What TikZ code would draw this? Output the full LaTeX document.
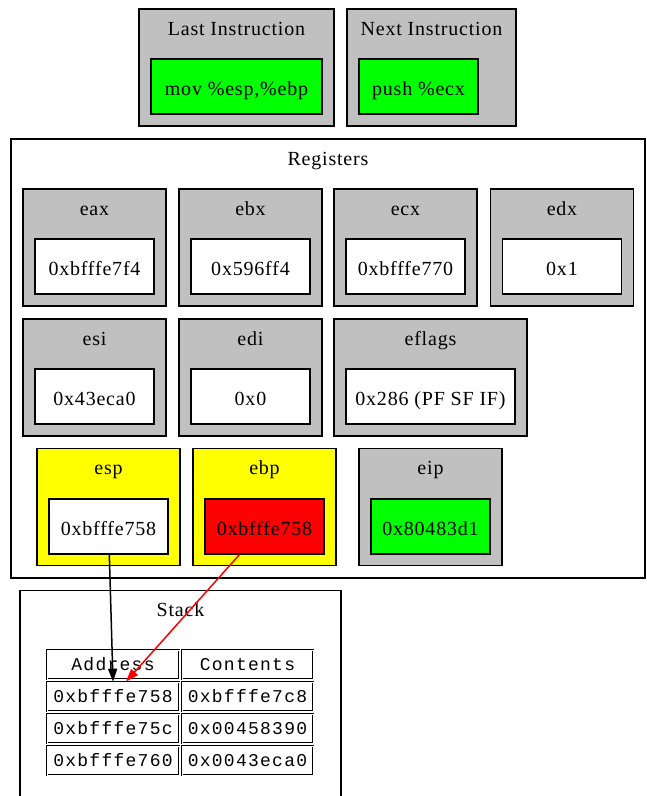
\documentclass[tikz,border=0pt]{standalone}
\usepackage{fontspec}
\setmainfont{Liberation Serif}[LetterSpace=4]
\newfontfamily\stackfont{Liberation Mono}[LetterSpace=7]
\usetikzlibrary{arrows.meta}
\definecolor{boxgray}{RGB}{192,192,192}
\definecolor{valgreen}{RGB}{0,255,0}
\definecolor{valyellow}{RGB}{255,255,0}
\definecolor{valred}{RGB}{255,0,0}

\begin{document}
\begin{tikzpicture}[x=1pt, y=-1pt,
  cluster/.style={draw, line width=1.3pt, fill=boxgray, inner sep=0pt, minimum height=117pt},
  title/.style={anchor=base, inner sep=0pt, font=\fontsize{20}{24}\selectfont},
  value/.style={draw, line width=1.3pt, fill=white, inner sep=0pt, minimum width=119pt, minimum height=55pt, text height=18pt, text depth=0pt, font=\fontsize{20}{24}\selectfont},
  cell/.style={draw, double, double distance=0.7pt, line width=0.7pt, inner sep=0pt, minimum height=29pt, font=\stackfont\fontsize{18}{22}\selectfont},
  pointer/.style={-{Triangle[length=13pt,width=9pt]}, line width=1.5pt}]
\useasboundingbox (0,0) rectangle (647,796);
\clip (0,0) rectangle (647,796);

% Instructions
\node[cluster, minimum width=195pt] (lastbox) at (236.5,67.5) {};
\node[title] (lasttitle) at (236.5,35) {Last Instruction};
\node[value, fill=valgreen, minimum width=171pt] (lastval) at (236.5,86.5) {mov \%esp,\%ebp};
\node[cluster, minimum width=169pt] (nextbox) at (431.5,67.5) {};
\node[title] (nexttitle) at (431.5,35) {Next Instruction};
\node[value, fill=valgreen] (nextval) at (418.5,86.5) {push \%ecx};

% Registers
\node[cluster, fill=white, minimum width=634pt, minimum height=439pt] (regs) at (328,358.5) {};
\node[title] (regstitle) at (328,165) {Registers};
\foreach \name/\x/\val in {eax/94.5/0xbfffe7f4, ebx/250.5/0x596ff4, ecx/405.5/0xbfffe770, edx/562/0x1}{
  \node[cluster, minimum width=143pt] (\name) at (\x,247.5) {};
  \node[title] (\name title) at (\x,215) {\name};
  \node[value] (\name val) at (\x,266.5) {\val};
}
\foreach \name/\x/\val in {esi/94.5/0x43eca0, edi/250.5/0x0}{
  \node[cluster, minimum width=143pt] (\name) at (\x,377.5) {};
  \node[title] (\name title) at (\x,345) {\name};
  \node[value] (\name val) at (\x,396.5) {\val};
}
\node[cluster, minimum width=193pt] (eflags) at (430.5,377.5) {};
\node[title] (eflagstitle) at (430.5,345) {eflags};
\node[value, minimum width=169pt] (eflagsval) at (430.5,396.5) {0x286 (PF SF IF)};

% esp, ebp, eip
\node[cluster, fill=valyellow, minimum width=143pt] (esp) at (108.5,507) {};
\node[title] (esptitle) at (108.5,474) {esp};
\node[value] (espval) at (108.5,526.5) {0xbfffe758};
\node[cluster, fill=valyellow, minimum width=143pt] (ebp) at (264.5,507) {};
\node[title] (ebptitle) at (264.5,474) {ebp};
\node[value, fill=valred] (ebpval) at (264.5,526.5) {0xbfffe758};
\node[cluster, minimum width=143pt] (eip) at (430.5,507) {};
\node[title] (eiptitle) at (430.5,474) {eip};
\node[value, fill=valgreen] (eipval) at (430.5,526.5) {0x80483d1};

% Stack
\node[draw, line width=1.3pt, fill=white, minimum width=321pt, minimum height=230pt, anchor=north] (stack) at (180.5,590) {};
\node[title] (stacktitle) at (180.5,616) {Stack};
\node[cell, minimum width=132pt] (addrhead) at (113,664.5) {Address};
\node[cell, minimum width=131pt] (conthead) at (247.5,664.5) {Contents};
\foreach \row/\y/\addr/\cont in {1/696.5/0xbfffe758/0xbfffe7c8, 2/728.5/0xbfffe75c/0x00458390, 3/760.5/0xbfffe760/0x0043eca0}{
  \node[cell, minimum width=132pt] (addr\row) at (113,\y) {\addr};
  \node[cell, minimum width=131pt] (cont\row) at (247.5,\y) {\cont};
}

% Pointers into the stack
\coordinate (ebptarget) at ([xshift=13pt]addr1.north);
\draw[pointer] (espval) -- (addr1.north);
\draw[pointer, red] (ebpval) -- (ebptarget);

\end{tikzpicture}
\end{document}
